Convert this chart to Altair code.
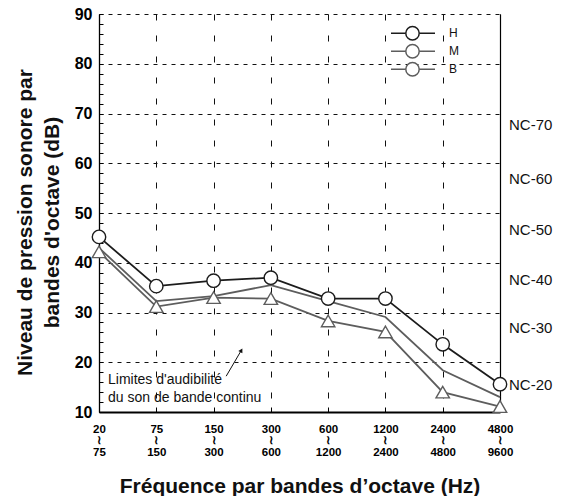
import json
import altair as alt
import pandas as pd

# ---------------- data ----------------
bands_lo = ["20", "75", "150", "300", "600", "1200", "2400", "4800"]
bands_hi = ["75", "150", "300", "600", "1200", "2400", "4800", "9600"]
series_names = ["H", "M", "B"]
level_H = [45.2, 35.3, 36.4, 37.0, 32.8, 32.8, 23.6, 15.6]
level_M = [43.0, 32.3, 33.3, 35.5, 32.3, 29.1, 18.4, 13.0]
level_B = [42.2, 31.2, 33.0, 32.8, 28.3, 26.1, 14.0, 11.1]
y_ticks = [10, 20, 30, 40, 50, 60, 70, 80, 90]
y_minor = list(range(10, 91, 2))
nc_labels = ["NC-70", "NC-60", "NC-50", "NC-40", "NC-30", "NC-20"]
nc_levels = [67.7, 56.8, 46.5, 36.6, 26.8, 15.4]
note_text = "Limites d'audibilité\ndu son de bande continu"
note_band = [0]
note_level = [16.4]
arrow_band = [2.22, 2.485]
arrow_level = [17.2, 22.4]

FONT = "Liberation Sans"
band_idx = list(range(len(bands_lo)))
marker_keys = [s.lower() for s in series_names]   # own key for the markers and their legend
series_colors = ["#1c1c1c", "#5d5d5d", "#5d5d5d"]

rows = []
for name, key, vals in zip(series_names, marker_keys, [level_H, level_M, level_B]):
    for i, v in enumerate(vals):
        rows.append({"i": i, "series": name, "marker": key, "level": v})
df = pd.DataFrame(rows)

xscale = alt.Scale(domain=[band_idx[0], band_idx[-1]], nice=False, zero=False)
yscale = alt.Scale(domain=[y_ticks[0], y_ticks[-1]], nice=False, zero=False)

label_expr = "[%s[datum.value], '≀', %s[datum.value]]" % (json.dumps(bands_lo), json.dumps(bands_hi))

x_axis_main = alt.Axis(
    orient="bottom", values=band_idx, labelExpr=label_expr, labelFlush=False, labelOverlap=False,
    labelFont=FONT, labelFontSize=11.5, labelFontWeight="bold", labelColor="#000",
    labelLineHeight=11.7, labelPadding=11, labelAngle=0,
    ticks=False, tickSize=0, domain=True, domainColor="#000", domainWidth=2.2,
    grid=True, gridDash=[6, 15], gridColor="#111", gridWidth=1,
    title="Fréquence par bandes d’octave (Hz)", titleFont=FONT, titleFontSize=21,
    titleFontWeight="bold", titleColor="#111", titleBaseline="alphabetic", titleY=80.5, titleX=200.5,
)
y_axis_main = alt.Axis(
    orient="left", values=y_ticks, labelFlush=False, labelOverlap=False,
    labelFont=FONT, labelFontSize=16, labelFontWeight="bold", labelColor="#000", labelPadding=7,
    ticks=False, tickSize=0, domain=True, domainColor="#000", domainWidth=1.3,
    grid=True, gridDash=[4, 5], gridColor="#111", gridWidth=1,
    title=["Niveau de pression sonore par", "bandes d'octave (dB)"], titleFont=FONT,
    titleFontSize=21, titleFontWeight="bold", titleColor="#111", titleAngle=270,
    titleAlign="center", titleBaseline="alphabetic", titleLineHeight=26.5, titleX=-67.3, titleY=208,
)

# legend 1: line glyphs + labels
line_legend = alt.Legend(
    orient="none", legendX=291, legendY=10.3, title=None, padding=0, zindex=1,
    symbolType="stroke", symbolSize=1936, symbolStrokeWidth=1.6, symbolOpacity=1,
    clipHeight=18, rowPadding=0,
    labelOffset=13, labelFont=FONT, labelFontSize=12, labelColor="#111",
)
# legend 2: marker glyphs laid over the line glyphs (labels hidden)
marker_legend = alt.Legend(
    orient="none", legendX=306, legendY=10.3, title=None, padding=0, zindex=2,
    symbolSize=180, symbolStrokeWidth=1.5, symbolOpacity=1, symbolFillColor="white",
    clipHeight=18, rowPadding=0,
    labelOpacity=0, labelOffset=13, labelFont=FONT, labelFontSize=12,
)

lines = alt.Chart(df).mark_line(strokeWidth=1.8).encode(
    x=alt.X("i:Q", scale=xscale, axis=x_axis_main),
    y=alt.Y("level:Q", scale=yscale, axis=y_axis_main),
    stroke=alt.Stroke("series:N", scale=alt.Scale(domain=series_names, range=series_colors),
                      legend=line_legend),
)

points = alt.Chart(df).transform_filter(alt.datum.series != "M").mark_point(
    filled=True, fill="white", size=180, strokeWidth=1.4, opacity=1
).encode(
    x=alt.X("i:Q", axis=None),
    y=alt.Y("level:Q", axis=None),
    stroke=alt.Stroke("marker:N", scale=alt.Scale(domain=marker_keys, range=series_colors),
                      legend=marker_legend),
    shape=alt.Shape("marker:N",
                    scale=alt.Scale(domain=marker_keys, range=["circle", "M0,0", "triangle-up"]),
                    legend=marker_legend),
)

nc_df = pd.DataFrame({"label": nc_labels, "level": nc_levels, "i": band_idx[-1]})
nc = alt.Chart(nc_df).mark_text(
    align="left", baseline="middle", dx=9, font=FONT, fontSize=15, color="#111"
).encode(
    x=alt.X("i:Q", axis=alt.Axis(orient="bottom", offset=-5, tickSize=5, values=band_idx, labels=False,
                                 domain=False, grid=False, title="", ticks=True, tickColor="#000", tickWidth=1)),
    y=alt.Y("level:Q", axis=alt.Axis(orient="right", domain=True, domainColor="#000", domainWidth=1.2,
                                     ticks=False, labels=False, grid=False, title="")),
    text="label:N",
)

note_df = pd.DataFrame({"i": note_band, "level": note_level, "text": [note_text]})
note = alt.Chart(note_df).mark_text(
    align="left", baseline="middle", dx=9, font=FONT, fontSize=14, lineBreak="\n", lineHeight=18, color="#111"
).encode(
    x=alt.X("i:Q", axis=None),
    y=alt.Y("level:Q", axis=alt.Axis(orient="left", offset=-4, tickSize=4, values=y_minor, labels=False,
                                     domain=False, grid=False, title="", ticks=True, tickColor="#000", tickWidth=1)),
    text="text:N",
)

arrow_df = pd.DataFrame({"i": arrow_band, "level": arrow_level})
arrow = alt.Chart(arrow_df).mark_line(color="#111", strokeWidth=1).encode(
    x=alt.X("i:Q", axis=None), y=alt.Y("level:Q", axis=None)
)
head = alt.Chart(arrow_df.tail(1)).mark_point(
    shape="triangle-up", filled=True, color="#111", size=22, angle=30, opacity=1
).encode(x=alt.X("i:Q", axis=None), y=alt.Y("level:Q", axis=None))

chart = alt.layer(lines, points, nc, note, arrow, head).resolve_axis(
    x="independent", y="independent"
).resolve_scale(stroke="independent").properties(
    width=401, height=398,
    padding={"left": 91, "top": 6, "right": 54, "bottom": 84},
    autosize=alt.AutoSizeParams(type="none"),
).configure(font=FONT).configure_view(stroke="transparent")

chart.save("out.html", embed_options={"renderer": "svg", "actions": False})
